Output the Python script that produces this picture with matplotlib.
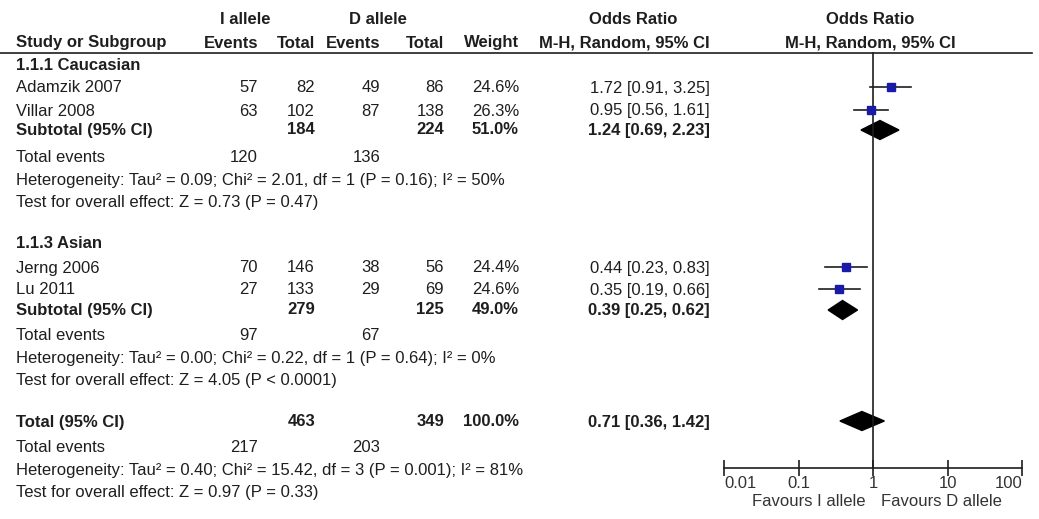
import numpy as np
import matplotlib
matplotlib.use("Agg")
from matplotlib import pyplot as plt
from matplotlib.patches import Polygon

plt.rcParams['font.family'] = ['Liberation Sans', 'DejaVu Sans']

# study level data
studies = ["Adamzik 2007", "Villar 2008", "Jerng 2006", "Lu 2011"]
study_group = [0, 0, 1, 1]
i_events = [57, 63, 70, 27]
i_total = [82, 102, 146, 133]
d_events = [49, 87, 38, 29]
d_total = [86, 138, 56, 69]
weights = [24.6, 26.3, 24.4, 24.6]
odds = [1.72, 0.95, 0.44, 0.35]
ci_lo = [0.91, 0.56, 0.23, 0.19]
ci_hi = [3.25, 1.61, 0.83, 0.66]

# subgroup level data
groups = ["1.1.1 Caucasian", "1.1.3 Asian"]
sub_i_total = [184, 279]
sub_d_total = [224, 125]
sub_weight = [51.0, 49.0]
sub_or = [1.24, 0.39]
sub_lo = [0.69, 0.25]
sub_hi = [2.23, 0.62]
sub_i_events = [120, 97]
sub_d_events = [136, 67]
sub_het = ["Heterogeneity: Tau\u00b2 = 0.09; Chi\u00b2 = 2.01, df = 1 (P = 0.16); I\u00b2 = 50%",
           "Heterogeneity: Tau\u00b2 = 0.00; Chi\u00b2 = 0.22, df = 1 (P = 0.64); I\u00b2 = 0%"]
sub_test = ["Test for overall effect: Z = 0.73 (P = 0.47)",
            "Test for overall effect: Z = 4.05 (P < 0.0001)"]

# overall
tot_i_total, tot_d_total = 463, 349
tot_or, tot_lo, tot_hi = 0.71, 0.36, 1.42
tot_i_events, tot_d_events = 217, 203
tot_het = "Heterogeneity: Tau\u00b2 = 0.40; Chi\u00b2 = 15.42, df = 3 (P = 0.001); I\u00b2 = 81%"
tot_test = "Test for overall effect: Z = 0.97 (P = 0.33)"

ticks = [0.01, 0.1, 1, 10, 100]
tick_labels = ["0.01", "0.1", "1", "10", "100"]

W, H = 1039, 519
fig = plt.figure(figsize=(W / 100, H / 100), dpi=100)
ax = fig.add_axes([0, 0, 1, 1])
ax.set_xlim(0, W)
ax.set_ylim(H, 0)
ax.axis('off')

tc = '#1e1e1e'
fs = 12

# column right edges
c_ie, c_it, c_de, c_dt, c_w, c_or = 258, 315, 380, 444, 519, 710


def txt(x, y, s, ha='left', bold=False, color=tc):
    # y is the visual middle of the row, place on baseline so rows line up
    ax.text(x, y + 4.5, s, ha=ha, va='baseline', fontsize=fs, color=color,
            fontweight='bold' if bold else 'normal')


# headers
txt(245, 20, "I allele", 'center', True)
txt(378, 20, "D allele", 'center', True)
txt(633, 20, "Odds Ratio", 'center', True)
txt(870, 20, "Odds Ratio", 'center', True)
txt(16, 43, "Study or Subgroup", bold=True)
txt(c_ie, 43, "Events", 'right', True)
txt(c_it, 43, "Total", 'right', True)
txt(c_de, 43, "Events", 'right', True)
txt(c_dt, 43, "Total", 'right', True)
txt(c_w, 43, "Weight", 'right', True)
txt(c_or, 43, "M-H, Random, 95% CI", 'right', True)
txt(870, 43, "M-H, Random, 95% CI", 'center', True)
ax.plot([0, 1032], [53, 53], color=tc, lw=1.2)

# forest axes
x0, x1 = 724, 1022
fx = fig.add_axes([x0 / W, 0, (x1 - x0) / W, 1])
fx.set_xscale('log')
fx.set_xlim(0.01, 100)
fx.set_ylim(H, 0)
fx.patch.set_alpha(0)
for s in ['top', 'left', 'right']:
    fx.spines[s].set_visible(False)
fx.spines['bottom'].set_position(('data', 468))
fx.spines['bottom'].set_color(tc)
fx.spines['bottom'].set_linewidth(1.2)
fx.set_yticks([])
fx.set_xticks(ticks)
fx.set_xticklabels(tick_labels)
fx.minorticks_off()
fx.tick_params(axis='x', direction='inout', length=12, width=1.2, color=tc,
               labelsize=fs, labelcolor='#333333', pad=0)
labs = fx.get_xticklabels()
labs[0].set_horizontalalignment('left')
labs[-1].set_horizontalalignment('right')
fx.plot([1, 1], [53, 468], color=tc, lw=1.2)
txt(866, 501, "Favours I allele", 'right', color='#333333')
txt(881, 501, "Favours D allele", 'left', color='#333333')


def diamond(lo, est, hi, y, h=9.5):
    fx.add_patch(Polygon([(lo, y), (est, y - h), (hi, y), (est, y + h)],
                         closed=True, facecolor='black', edgecolor='black'))


group_rows = [[88, 111, 130, 157, 180, 202], [268, 290, 310, 335, 358, 381]]
group_title_y = [65, 243]

for g, name in enumerate(groups):
    txt(16, group_title_y[g], name, bold=True)
    rows = group_rows[g]
    idx = [i for i in range(len(studies)) if study_group[i] == g]
    for r, i in enumerate(idx):
        y = rows[r]
        txt(16, y, studies[i])
        txt(c_ie, y, str(i_events[i]), 'right')
        txt(c_it, y, str(i_total[i]), 'right')
        txt(c_de, y, str(d_events[i]), 'right')
        txt(c_dt, y, str(d_total[i]), 'right')
        txt(c_w, y, f"{weights[i]:.1f}%", 'right')
        txt(c_or, y, f"{odds[i]:.2f} [{ci_lo[i]:.2f}, {ci_hi[i]:.2f}]", 'right')
        fx.plot([ci_lo[i], ci_hi[i]], [y - 1, y - 1], color=tc, lw=1.2)
        fx.plot(odds[i], y - 1, marker='s', ms=5.8 * np.sqrt(weights[i] / 25),
                color='#1a1aa8', mec='#1a1aa8')
    ys = rows[2]
    txt(16, ys, "Subtotal (95% CI)", bold=True)
    txt(c_it, ys, str(sub_i_total[g]), 'right', True)
    txt(c_dt, ys, str(sub_d_total[g]), 'right', True)
    txt(c_w, ys, f"{sub_weight[g]:.1f}%", 'right', True)
    txt(c_or, ys, f"{sub_or[g]:.2f} [{sub_lo[g]:.2f}, {sub_hi[g]:.2f}]", 'right', True)
    diamond(sub_lo[g], sub_or[g], sub_hi[g], ys)
    txt(16, rows[3], "Total events")
    txt(c_ie, rows[3], str(sub_i_events[g]), 'right')
    txt(c_de, rows[3], str(sub_d_events[g]), 'right')
    txt(16, rows[4], sub_het[g])
    txt(16, rows[5], sub_test[g])

# overall
yt = 422
txt(16, yt, "Total (95% CI)", bold=True)
txt(c_it, yt, str(tot_i_total), 'right', True)
txt(c_dt, yt, str(tot_d_total), 'right', True)
txt(c_w, yt, "100.0%", 'right', True)
txt(c_or, yt, f"{tot_or:.2f} [{tot_lo:.2f}, {tot_hi:.2f}]", 'right', True)
diamond(tot_lo, tot_or, tot_hi, yt - 1)
txt(16, 447, "Total events")
txt(c_ie, 447, str(tot_i_events), 'right')
txt(c_de, 447, str(tot_d_events), 'right')
txt(16, 470, tot_het)
txt(16, 493, tot_test)

fig.savefig("out.png", dpi=100)
